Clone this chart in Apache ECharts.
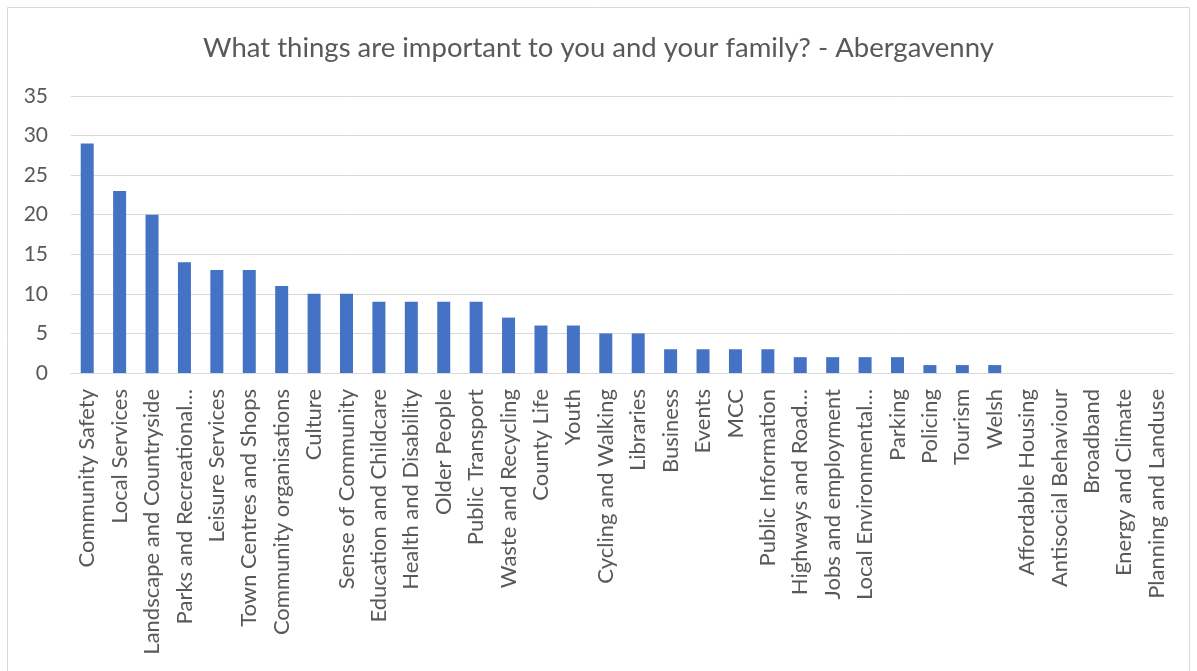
<!DOCTYPE html>
<html><head><meta charset="utf-8">
<script src="https://cdn.jsdelivr.net/npm/echarts@6/dist/echarts.min.js"></script>
<style>html,body{margin:0;padding:0;background:#fff}#c{width:1197px;height:671px}</style>
</head><body><div id="c"></div>
<script>
const categories = ["Community Safety","Local Services","Landscape and Countryside","Parks and Recreational…","Leisure Services","Town Centres and Shops","Community organisations","Culture","Sense of Community","Education and Childcare","Health and Disability","Older People","Public Transport","Waste and Recycling","County Life","Youth","Cycling and Walking","Libraries","Business","Events","MCC","Public Information","Highways and Road…","Jobs and employment","Local Environmental…","Parking","Policing","Tourism","Welsh","Affordable Housing","Antisocial Behaviour","Broadband","Energy and Climate","Planning and Landuse"];
const values = [29,23,20,14,13,13,11,10,10,9,9,9,9,7,6,6,5,5,3,3,3,3,2,2,2,2,1,1,1,0,0,0,0,0];
const yTicks = [0,5,10,15,20,25,30,35];
const title = "What things are important to you and your family? - Abergavenny";

const chart = echarts.init(document.getElementById('c'));
chart.setOption({
  animation:false,
  graphic:[{type:'rect',shape:{x:7.5,y:7.5,width:1182,height:680},style:{fill:'none',stroke:'#d9d9d9',lineWidth:1},silent:true}],
  title:{text:title,left:'center',top:29,textStyle:{fontFamily:'Lato',fontSize:27.5,fontWeight:'normal',color:'#595959'}},
  grid:{left:71,right:24,top:96,bottom:298},
  xAxis:{type:'category',data:categories,
    axisLine:{lineStyle:{color:'#d9d9d9',width:1}},axisTick:{show:false},
    axisLabel:{rotate:90,interval:0,fontFamily:'Lato',fontSize:22,color:'#595959',margin:16}},
  yAxis:{type:'value',min:0,max:35,interval:5,
    axisLine:{show:false},axisTick:{show:false},
    axisLabel:{fontFamily:'Lato',fontSize:21,color:'#595959',margin:23,formatter:v=>yTicks.includes(v)?String(v):''},
    splitLine:{lineStyle:{color:'#d9d9d9',width:1}}},
  series:[{type:'bar',data:values,barWidth:13,itemStyle:{color:'#4472c4'}}]
});
</script></body></html>
